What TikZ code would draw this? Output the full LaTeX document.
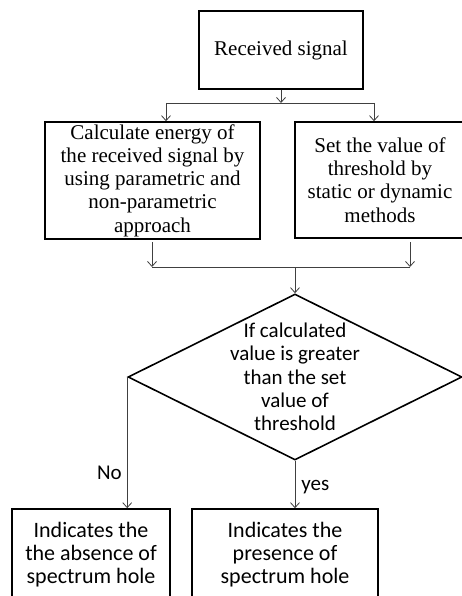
\documentclass[tikz,border=0pt]{standalone}
\usepackage{fontspec}
\setmainfont{Liberation Serif}
\newfontfamily\calibri{Carlito}
\usetikzlibrary{shapes.geometric,arrows.meta}

\begin{document}
\begin{tikzpicture}[x=1pt,y=-1pt,
        box/.style={draw=black,line width=1.6pt,align=center,inner sep=0pt},
        serifbox/.style={box,font=\fontsize{21}{23.3}\selectfont},
        sansbox/.style={box,font=\calibri\fontsize{22}{23}\selectfont},
        decision/.style={diamond,draw=black,line width=1.6pt,inner sep=0pt,minimum width=334,minimum height=166},
        sanstext/.style={font=\calibri\fontsize{21}{23.3}\selectfont,align=center},
        wire/.style={draw=black!75,line width=0.8pt},
        arr/.style={wire,-{Straight Barb[length=5pt,width=9pt]}}]
    \useasboundingbox (0,0) rectangle (461,596);

    \node[serifbox,minimum width=164,minimum height=78] (recv) at (281,50) {Received signal};

    \node[serifbox,minimum width=215,minimum height=117] (energy) at (152.5,180.5)
        {Calculate energy of\\the received signal by\\using parametric and\\non-parametric\\approach};
    \node[serifbox,minimum width=170,minimum height=116] (thresh) at (380,180)
        {Set the value of\\threshold by\\static or dynamic\\methods};

    % split to both boxes
    \coordinate (split) at (281,103);
    \coordinate (splitL) at (166,103);
    \coordinate (splitR) at (374,103);
    \draw[arr] (recv.south) -- (split);
    \draw[wire] (splitL) -- (splitR);
    \draw[arr] (splitL) -- (splitL |- energy.north);
    \draw[arr] (splitR) -- (splitR |- thresh.north);

    % join below both boxes
    \coordinate (outL) at (152,242);
    \coordinate (outR) at (410,242);
    \coordinate (joinL) at (152,267);
    \coordinate (joinR) at (410,267);
    \coordinate (join) at (295,267);
    \draw[arr] (outL) -- (joinL);
    \draw[arr] (outR) -- (joinR);
    \draw[wire] (joinL) -- (joinR);

    \node[decision] (dec) at (295,377) {};
    \node[sanstext] (dectext) at (dec.center)
        {If calculated\\value is greater\\than the set\\value of\\threshold};
    \draw[arr] (join) -- (dec.north);

    \node[sansbox,minimum width=158,minimum height=92] (absent) at (91,555)
        {Indicates the\\the absence of\\spectrum hole};
    \node[sansbox,minimum width=186,minimum height=92] (present) at (285,555)
        {Indicates the\\presence of\\spectrum hole};

    \draw[arr] (dec.west) -- node[sanstext,left,pos=0.73,inner sep=5pt] (nolabel) {No} (dec.west |- absent.north);
    \draw[arr] (dec.south) -- node[sanstext,right,pos=0.55,inner sep=6pt] (yeslabel) {yes} (dec.south |- present.north);
\end{tikzpicture}
\end{document}
